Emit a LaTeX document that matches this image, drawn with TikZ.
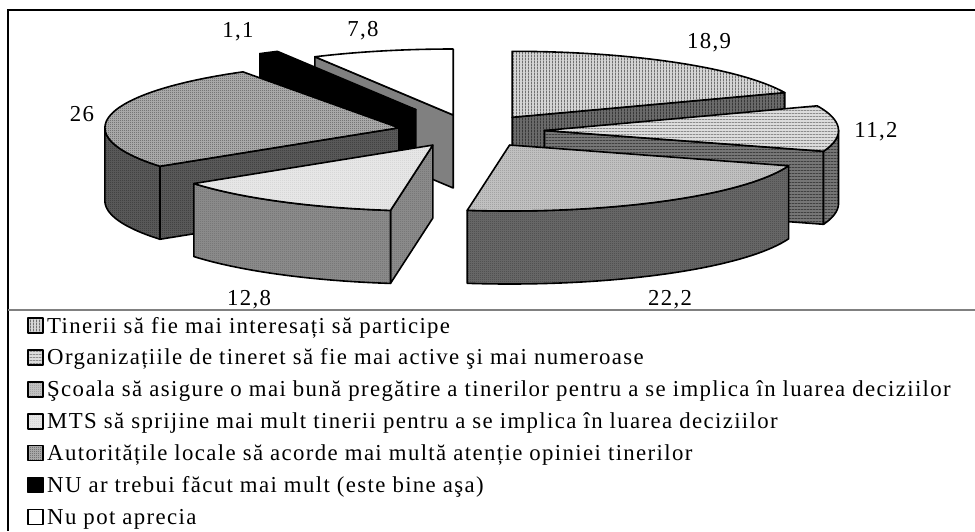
\documentclass[tikz,border=0pt]{standalone}
\usepackage{fontspec}
\setmainfont{Liberation Serif}
\newfontfamily\legfont[LetterSpace=6.0]{Liberation Serif}
\usetikzlibrary{patterns}
\pgfdeclarepatternformonly{vstripes}{\pgfqpoint{0pt}{0pt}}{\pgfqpoint{3pt}{3pt}}{\pgfqpoint{3pt}{3pt}}{\pgfpathrectangle{\pgfqpoint{0pt}{0pt}}{\pgfqpoint{1.2pt}{3pt}}\pgfusepath{fill}}
\pgfdeclarepatternformonly{hstripes}{\pgfqpoint{0pt}{0pt}}{\pgfqpoint{3pt}{3pt}}{\pgfqpoint{3pt}{3pt}}{\pgfpathrectangle{\pgfqpoint{0pt}{0pt}}{\pgfqpoint{3pt}{1.2pt}}\pgfusepath{fill}}
\pgfdeclarepatternformonly{fdots}{\pgfqpoint{0pt}{0pt}}{\pgfqpoint{2pt}{2pt}}{\pgfqpoint{2pt}{2pt}}{\pgfpathrectangle{\pgfqpoint{0pt}{0pt}}{\pgfqpoint{1pt}{1pt}}\pgfusepath{fill}}
\definecolor{tinTc}{HTML}{D4D4D4}\definecolor{tinTp}{HTML}{707070}
\definecolor{tinSc}{HTML}{6A6A6A}\definecolor{tinSp}{HTML}{383838}
\definecolor{orgTc}{HTML}{DCDCDC}\definecolor{orgTp}{HTML}{8C8C8C}
\definecolor{orgSc}{HTML}{767676}\definecolor{orgSp}{HTML}{404040}
\definecolor{scoTc}{HTML}{C0C0C0}\definecolor{scoTp}{HTML}{808080}
\definecolor{scoSc}{HTML}{666666}\definecolor{scoSp}{HTML}{363636}
\definecolor{mtsTc}{HTML}{E6E6E6}\definecolor{mtsTp}{HTML}{C4C4C4}
\definecolor{mtsSc}{HTML}{8A8A8A}\definecolor{mtsSp}{HTML}{606060}
\definecolor{autTc}{HTML}{A8A8A8}\definecolor{autTp}{HTML}{303030}
\definecolor{autSc}{HTML}{585858}\definecolor{autSp}{HTML}{262626}
\definecolor{npSc}{HTML}{808080}
\newcommand\pRX{294}
\newcommand\pRY{66}
\newcommand\pH{73}
\newcommand\radface[4]{\path[#4] (#1,#2) -- ({#1+\pRX*sin(#3)},{#2-\pRY*cos(#3)}) -- ++(0,\pH) -- (#1,{#2+\pH}) -- cycle;}
\newcommand\outside[5]{\path[#5] plot[domain=#3:#4,samples=40,variable=\t] ({#1+\pRX*sin(\t)},{#2-\pRY*cos(\t)}) -- plot[domain=#4:#3,samples=40,variable=\t] ({#1+\pRX*sin(\t)},{#2+\pH-\pRY*cos(\t)}) -- cycle;}
\newcommand\topface[5]{\path[#5] (#1,#2) -- plot[domain=#3:#4,samples=50,variable=\t] ({#1+\pRX*sin(\t)},{#2-\pRY*cos(\t)}) -- cycle;}
\begin{document}
\begin{tikzpicture}[x=1pt,y=-1pt,
  face/.style={draw=black,line width=1.6pt,line join=round},
  tinT/.style={face,preaction={fill=tinTc},pattern=vstripes,pattern color=tinTp},
  tinS/.style={face,preaction={fill=tinSc},pattern=vstripes,pattern color=tinSp},
  orgT/.style={face,preaction={fill=orgTc},pattern=hstripes,pattern color=orgTp},
  orgS/.style={face,preaction={fill=orgSc},pattern=hstripes,pattern color=orgSp},
  scoT/.style={face,preaction={fill=scoTc},pattern=fdots,pattern color=scoTp},
  scoS/.style={face,preaction={fill=scoSc},pattern=fdots,pattern color=scoSp},
  mtsT/.style={face,preaction={fill=mtsTc},pattern=fdots,pattern color=mtsTp},
  mtsS/.style={face,preaction={fill=mtsSc},pattern=fdots,pattern color=mtsSp},
  autT/.style={face,preaction={fill=autTc},pattern=fdots,pattern color=autTp},
  autS/.style={face,preaction={fill=autSc},pattern=fdots,pattern color=autSp},
  nuT/.style={face,fill=black},
  npT/.style={face,fill=white},
  npS/.style={face,fill=npSc},
  legmark/.style={minimum size=15pt,inner sep=0pt,line width=1.6pt},
  legtext/.style={anchor=base west,inner sep=0pt,font=\legfont\fontsize{22.8}{27}\selectfont},
  vallabel/.style={anchor=base,inner sep=0pt,font=\legfont\fontsize{22.8}{27}\selectfont}]
\useasboundingbox (0,0) rectangle (975,531);
% frame
\draw[line width=1.2pt] (975,10) -- (8,10) -- (8,531);
\draw[line width=1.2pt,draw=npSc] (8,310) -- (975,310);
% Tinerii
\radface{512.1}{117.3}{68.04}{tinS}
\topface{512.1}{117.3}{0}{68.04}{tinT}
% Nu pot aprecia
\radface{453.2}{115.0}{331.92}{npS}
\topface{453.2}{115.0}{331.92}{360}{npT}
% NU
\radface{415.8}{109.6}{327.96}{nuT}
\topface{415.8}{109.6}{327.96}{331.92}{nuT}
% Autoritatile
\radface{398.9}{127.8}{234.36}{autS}
\outside{398.9}{127.8}{234.36}{270}{autS}
\topface{398.9}{127.8}{234.36}{327.96}{autT}
% Organizatiile
\radface{544.5}{130.5}{108.36}{orgS}
\outside{544.5}{130.5}{90}{108.36}{orgS}
\topface{544.5}{130.5}{68.04}{108.36}{orgT}
% MTS
\radface{432.8}{145.1}{188.28}{mtsS}
\outside{432.8}{145.1}{188.28}{234.36}{mtsS}
\topface{432.8}{145.1}{188.28}{234.36}{mtsT}
% Scoala
\outside{509.6}{145.0}{108.36}{188.28}{scoS}
\topface{509.6}{145.0}{108.36}{188.28}{scoT}
% value labels
\node[vallabel] (v1) at (709,48) {18,9};
\node[vallabel] (v2) at (876,137) {11,2};
\node[vallabel] (v3) at (670,305) {22,2};
\node[vallabel] (v4) at (249,305) {12,8};
\node[vallabel] (v5) at (82,121) {26};
\node[vallabel] (v6) at (238,37) {1,1};
\node[vallabel] (v7) at (363,36) {7,8};
% legend
\node[legmark,tinT] (m1) at (35.5,325.5) {};
\node[legmark,orgT] (m2) at (35.5,357.4) {};
\node[legmark,scoT] (m3) at (35.5,389.3) {};
\node[legmark,mtsT] (m4) at (35.5,421.2) {};
\node[legmark,autT] (m5) at (35.5,453.1) {};
\node[legmark,nuT] (m6) at (35.5,485.0) {};
\node[legmark,npT] (m7) at (35.5,516.9) {};
\node[legtext] (l1) at (47,333.0) {Tinerii să fie mai interesați să participe};
\node[legtext] (l2) at (47,364.9) {Organizațiile de tineret să fie mai active şi mai numeroase};
\node[legtext] (l3) at (47,396.8) {Şcoala să asigure o mai bună pregătire a tinerilor pentru a se implica în luarea deciziilor};
\node[legtext] (l4) at (47,428.7) {MTS să sprijine mai mult tinerii pentru a se implica în luarea deciziilor};
\node[legtext] (l5) at (47,460.6) {Autoritățile locale să acorde mai multă atenție opiniei tinerilor};
\node[legtext] (l6) at (47,492.5) {NU ar trebui făcut mai mult (este bine aşa)};
\node[legtext] (l7) at (47,524.4) {Nu pot aprecia};
\end{tikzpicture}
\end{document}
